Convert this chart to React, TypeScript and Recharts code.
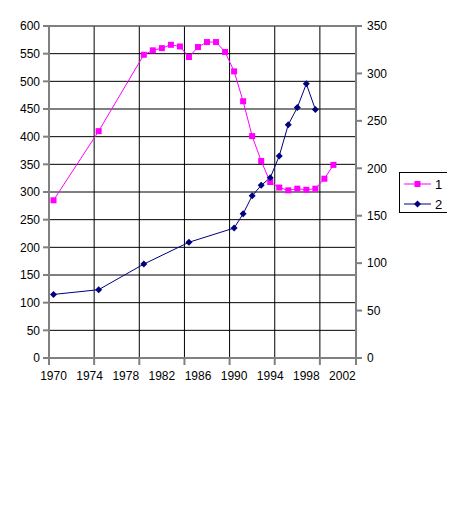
import React from 'react';
import {
  ComposedChart, Line, XAxis, YAxis, CartesianGrid, Legend, ReferenceLine
} from 'recharts';

// series 1 (left axis)
const years1 = [1970, 1975, 1980, 1981, 1982, 1983, 1984, 1985, 1986, 1987, 1988, 1989, 1990, 1991, 1992, 1993, 1994, 1995, 1996, 1997, 1998, 1999, 2000, 2001];
const values1 = [285, 410, 548, 556, 560, 566, 563, 544, 562, 571, 571, 553, 518, 464, 401, 356, 318, 308, 303, 306, 304, 306, 324, 349];

// series 2 (right axis)
const years2 = [1970, 1975, 1980, 1985, 1990, 1991, 1992, 1993, 1994, 1995, 1996, 1997, 1998, 1999];
const values2 = [67, 72, 99, 122, 137, 152, 171, 182, 190, 213, 246, 264, 289, 262];

const yearLabels = [1970, 1974, 1978, 1982, 1986, 1990, 1994, 1998, 2002];
// category boundaries (every 5 categories)
const gridYears = [1969.5, 1974.5, 1979.5, 1984.5, 1989.5, 1994.5, 1999.5, 2003.5];
const xDomain = [1969.5, 2003.5];
const leftTicks = [0, 50, 100, 150, 200, 250, 300, 350, 400, 450, 500, 550, 600];
const rightTicks = [0, 50, 100, 150, 200, 250, 300, 350];
const seriesNames = ['1', '2'];

const data1 = years1.map((year, i) => ({ year, value: values1[i] }));
const data2 = years2.map((year, i) => ({ year, value: values2[i] }));

const PINK = '#FF00FF';
const NAVY = '#000080';
const GRAY = '#808080';
const FONT = '"Liberation Sans", Arial, sans-serif';
const tickStyle = { fontSize: 12, fill: '#000', fontFamily: FONT };

const SquareDot = (props: any) => {
  const { cx, cy, index } = props;
  if (cx == null || cy == null) return <g key={`sq-${index}`} />;
  return <rect key={`sq-${index}`} x={cx - 3} y={cy - 3} width={6} height={6} fill={PINK} />;
};

const DiamondDot = (props: any) => {
  const { cx, cy, index } = props;
  if (cx == null || cy == null) return <g key={`dm-${index}`} />;
  return (
    <path
      key={`dm-${index}`}
      d={`M${cx},${cy - 3.5} L${cx + 3.5},${cy} L${cx},${cy + 3.5} L${cx - 3.5},${cy} Z`}
      fill={NAVY}
    />
  );
};

// tick marks only, no label
const NoLabel = () => <g />;

const LegendBox = () => (
  <svg width={54} height={41} style={{ display: 'block' }}>
    <rect x={0.5} y={0.5} width={53} height={40} fill="#fff" stroke="#000" />
    <line x1={5} y1={12} x2={32} y2={12} stroke={PINK} />
    <rect x={15.5} y={9} width={6} height={6} fill={PINK} />
    <text x={36} y={16.5} fontSize={13} fontFamily={FONT} fill="#000">{seriesNames[0]}</text>
    <line x1={5} y1={32} x2={32} y2={32} stroke={NAVY} />
    <path d="M18.5,28.5 L22,32 L18.5,35.5 L15,32 Z" fill={NAVY} />
    <text x={36} y={36.5} fontSize={13} fontFamily={FONT} fill="#000">{seriesNames[1]}</text>
  </svg>
);

export default function App() {
  return (
    <div style={{ width: 447, height: 509, background: '#fff' }}>
      <ComposedChart width={447} height={509} margin={{ top: 18, right: 59, bottom: 131, left: 0 }}>
        <CartesianGrid xAxisId="grid" yAxisId="left" stroke="#000" strokeWidth={1} />
        <XAxis
          xAxisId="grid"
          type="number"
          dataKey="year"
          domain={xDomain}
          ticks={gridYears}
          interval={0}
          tick={NoLabel}
          tickSize={7}
          tickLine={{ stroke: GRAY, strokeWidth: 2 }}
          axisLine={{ stroke: GRAY, strokeWidth: 2 }}
          height={8}
          allowDataOverflow
        />
        <XAxis
          xAxisId="year"
          type="number"
          dataKey="year"
          domain={xDomain}
          ticks={yearLabels}
          interval={0}
          tick={tickStyle}
          tickLine={false}
          axisLine={false}
          tickSize={0}
          tickMargin={5}
          height={20}
          allowDataOverflow
        />
        <YAxis
          yAxisId="left"
          domain={[0, 600]}
          ticks={leftTicks}
          interval={0}
          width={41}
          tick={tickStyle}
          tickSize={6}
          tickMargin={3}
          tickLine={{ stroke: GRAY, strokeWidth: 2 }}
          axisLine={{ stroke: GRAY, strokeWidth: 2 }}
        />
        <YAxis
          yAxisId="right"
          orientation="right"
          domain={[0, 350]}
          ticks={rightTicks}
          interval={0}
          width={40}
          tick={{ ...tickStyle, textAnchor: 'start' }}
          tickSize={6}
          tickMargin={5}
          tickLine={{ stroke: GRAY, strokeWidth: 2 }}
          axisLine={{ stroke: GRAY, strokeWidth: 2 }}
        />
        <ReferenceLine xAxisId="year" yAxisId="left" y={leftTicks[leftTicks.length - 1]} stroke={GRAY} strokeWidth={1} />
        <Line
          xAxisId="year"
          yAxisId="left"
          data={data1}
          dataKey="value"
          name={seriesNames[0]}
          stroke={PINK}
          strokeWidth={1}
          dot={SquareDot}
          activeDot={false}
          isAnimationActive={false}
        />
        <Line
          xAxisId="year"
          yAxisId="right"
          data={data2}
          dataKey="value"
          name={seriesNames[1]}
          stroke={NAVY}
          strokeWidth={1}
          dot={DiamondDot}
          activeDot={false}
          isAnimationActive={false}
        />
        <Legend
          layout="horizontal"
          verticalAlign="middle"
          align="center"
          wrapperStyle={{ left: 391, top: 164, width: 54, height: 41 }}
          content={() => <LegendBox />}
        />
      </ComposedChart>
    </div>
  );
}
